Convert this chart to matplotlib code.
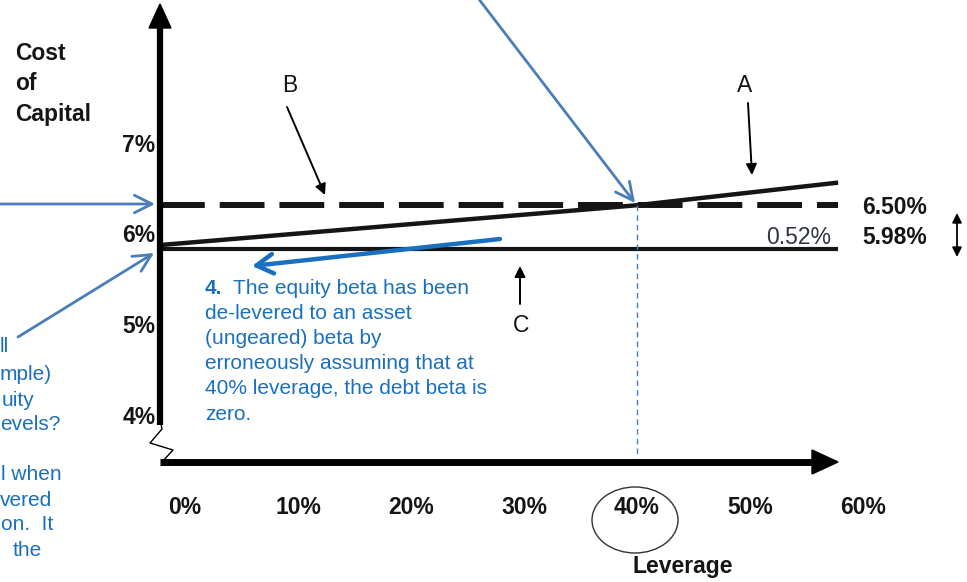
#!/usr/bin/env python3

import numpy as np
import matplotlib
matplotlib.use( 'Agg' )
import matplotlib.pyplot as plt
from matplotlib.patches import Ellipse, Polygon

plt.rcParams['font.family'] = [ 'Liberation Sans', 'DejaVu Sans' ]

#### ========== Data ==========

# Leverage (%) : start at the drawn y-axis, the 40% crossing, right end
leverage = [ -2.2, 40.0, 57.8 ]

# Cost of capital (%)
cocA = [ 5.90, 6.34, 6.59 ]   # line A (sloped)
cocB = [ 6.34, 6.34, 6.34 ]   # line B (dashed)
cocC = [ 5.86, 5.86, 5.86 ]   # line C (flat)

xTicks      = [ 0, 10, 20, 30, 40, 50, 60 ]
xTickLabels = [ '0%', '10%', '20%', '30%', '40%', '50%', '60%' ]
yTicks      = [ 7, 6, 5, 4 ]
yTickLabels = [ '7%', '6%', '5%', '4%' ]

rateLabels   = [ '6.50%', '5.98%' ]
spreadLabel  = '0.52%'

noteText = [ 'The equity beta has been',
             'de-levered to an asset',
             '(ungeared) beta by',
             'erroneously assuming that at',
             '40% leverage, the debt beta is',
             'zero.' ]

cutText = [ 'll', 'mple)', 'uity', 'evels?', 'l when', 'vered', 'on.  It', 'the' ]

#### ====== End of Data =======

W, H = 967, 582
blue  = '#1a70c0'
sblue = '#4a7ebb'
ink   = '#151515'
fs    = 15      # blue note text
fb    = 16.5    # black labels

fig = plt.figure( figsize = ( W / 100, H / 100 ), dpi = 100 )

# data axes : x in % leverage, y in % cost of capital
ax = fig.add_axes( [ 0, 0, 1, 1 ] )
ax.set_xlim( -185 / 11.3, ( W - 185 ) / 11.3 )
ax.set_ylim( 4 + ( 417 - H ) / 90.5, 4 + 417 / 90.5 )
ax.axis( 'off' )

# overlay axes in pixel units for the annotations
ov = fig.add_axes( [ 0, 0, 1, 1 ] )
ov.set_xlim( 0, W )
ov.set_ylim( H, 0 )
ov.axis( 'off' )
ov.patch.set_visible( False )

# ---- the three lines
ax.plot( leverage, cocC, color = ink, lw = 3.0, solid_capstyle = 'butt' )
ax.plot( leverage, cocB, color = ink, lw = 4.3, dashes = ( 7.5, 2.5 ), \
         dash_capstyle = 'butt' )
ax.plot( leverage, cocA, color = ink, lw = 3.2, solid_capstyle = 'butt' )

# vertical guide at 40%
ax.plot( [ leverage[1], leverage[1] ], [ cocB[1], 3.55 ], color = sblue, \
         lw = 1.0, dashes = ( 4, 3 ) )

# ---- axes with arrow heads and break
ov.plot( [ 160, 160 ], [ 425, 24 ], color = 'black', lw = 4.5, \
         solid_capstyle = 'butt' )
ov.add_patch( Polygon( [ [ 160, 4 ], [ 149, 28 ], [ 171, 28 ] ], \
                       closed = True, color = 'black' ) )
ov.plot( [ 160, 815 ], [ 462, 462 ], color = 'black', lw = 5.0, \
         solid_capstyle = 'butt' )
ov.add_patch( Polygon( [ [ 838, 462 ], [ 812, 450 ], [ 812, 474 ] ], \
                       closed = True, color = 'black' ) )
ov.plot( [ 161, 162, 150, 173, 162 ], [ 424, 429, 443, 450, 462 ], \
         color = 'black', lw = 1.0 )

# ---- tick labels
for v, s in zip( xTicks, xTickLabels ):
    ax.text( v, 3.0, s, ha = 'center', va = 'center', fontsize = fb, \
             fontweight = 'bold', color = ink )
for v, s in zip( yTicks, yTickLabels ):
    ax.text( -2.6, v, s, ha = 'right', va = 'center', fontsize = fb, \
             fontweight = 'bold', color = ink )

ov.add_patch( Ellipse( ( 635, 520 ), 86, 66, fill = False, lw = 1.0, \
                       edgecolor = '#333333' ) )

for i, s in enumerate( [ 'Cost', 'of', 'Capital' ] ):
    ov.text( 15, 53 + 31 * i, s, ha = 'left', va = 'center', fontsize = fb, \
             fontweight = 'bold', color = ink )
ov.text( 683, 567, 'Leverage', ha = 'center', va = 'center', fontsize = fb, \
         fontweight = 'bold', color = ink )

# ---- right-hand values
ov.text( 862, 207, rateLabels[0], ha = 'left', va = 'center', fontsize = fb, \
         fontweight = 'bold', color = ink )
ov.text( 862, 237, rateLabels[1], ha = 'left', va = 'center', fontsize = fb, \
         fontweight = 'bold', color = ink )
ov.text( 831, 237, spreadLabel, ha = 'right', va = 'center', fontsize = fb, \
         color = '#2e3440' )
ov.annotate( '', xy = ( 957, 257 ), xytext = ( 957, 213 ), \
             arrowprops = dict( arrowstyle = '<|-|>', color = 'black', \
                                lw = 1.3, mutation_scale = 14, \
                                shrinkA = 0, shrinkB = 0 ) )

# ---- A, B, C pointers
blk = dict( arrowstyle = '-|>', color = 'black', lw = 1.4, \
            mutation_scale = 16, shrinkA = 0, shrinkB = 0 )
ov.text( 745, 86, 'A', ha = 'center', va = 'center', fontsize = fb, color = ink )
ov.annotate( '', xy = ( 752, 175 ), xytext = ( 748, 103 ), arrowprops = blk )
ov.text( 290, 86, 'B', ha = 'center', va = 'center', fontsize = fb, color = ink )
ov.annotate( '', xy = ( 325, 195 ), xytext = ( 287, 107 ), arrowprops = blk )
ov.text( 521, 326, 'C', ha = 'center', va = 'center', fontsize = fb, color = ink )
ov.annotate( '', xy = ( 520, 266 ), xytext = ( 520, 304 ), arrowprops = blk )

# ---- blue pointers
thin = dict( arrowstyle = '->, head_length = 0.7, head_width = 0.35', \
             color = sblue, lw = 2.0, mutation_scale = 18, \
             shrinkA = 0, shrinkB = 0 )
ov.annotate( '', xy = ( 635, 203 ), xytext = ( 478, -2 ), arrowprops = thin )
ov.annotate( '', xy = ( 155, 204 ), xytext = ( -2, 204 ), arrowprops = thin )
ov.annotate( '', xy = ( 154, 253 ), xytext = ( 18, 337 ), arrowprops = thin )

ov.annotate( '', xy = ( 252, 266 ), xytext = ( 500, 239 ), \
             arrowprops = dict( arrowstyle = '->, head_length = 0.6, head_width = 0.35', \
                                color = blue, lw = 3.2, mutation_scale = 20, \
                                shrinkA = 0, shrinkB = 0 ) )

# ---- blue note
ov.text( 205, 288, '4.', ha = 'left', va = 'center', fontsize = fs, \
         fontweight = 'bold', color = blue )
for i, s in enumerate( noteText ):
    x0 = 233 if i == 0 else 205
    ov.text( x0, 288 + 25.2 * i, s, ha = 'left', va = 'center', \
             fontsize = fs, color = blue )

# fragments of a note that runs off the left edge
cutY = [ 347, 375, 400, 425, 475, 500, 525, 550 ]
cutX = [ 0, 0, 2, 0, 1, 0, 1, 13 ]
for x0, y0, s in zip( cutX, cutY, cutText ):
    ov.text( x0, y0, s, ha = 'left', va = 'center', fontsize = fs, color = blue )

fig.savefig( 'out.png', dpi = 100 )
plt.close()
